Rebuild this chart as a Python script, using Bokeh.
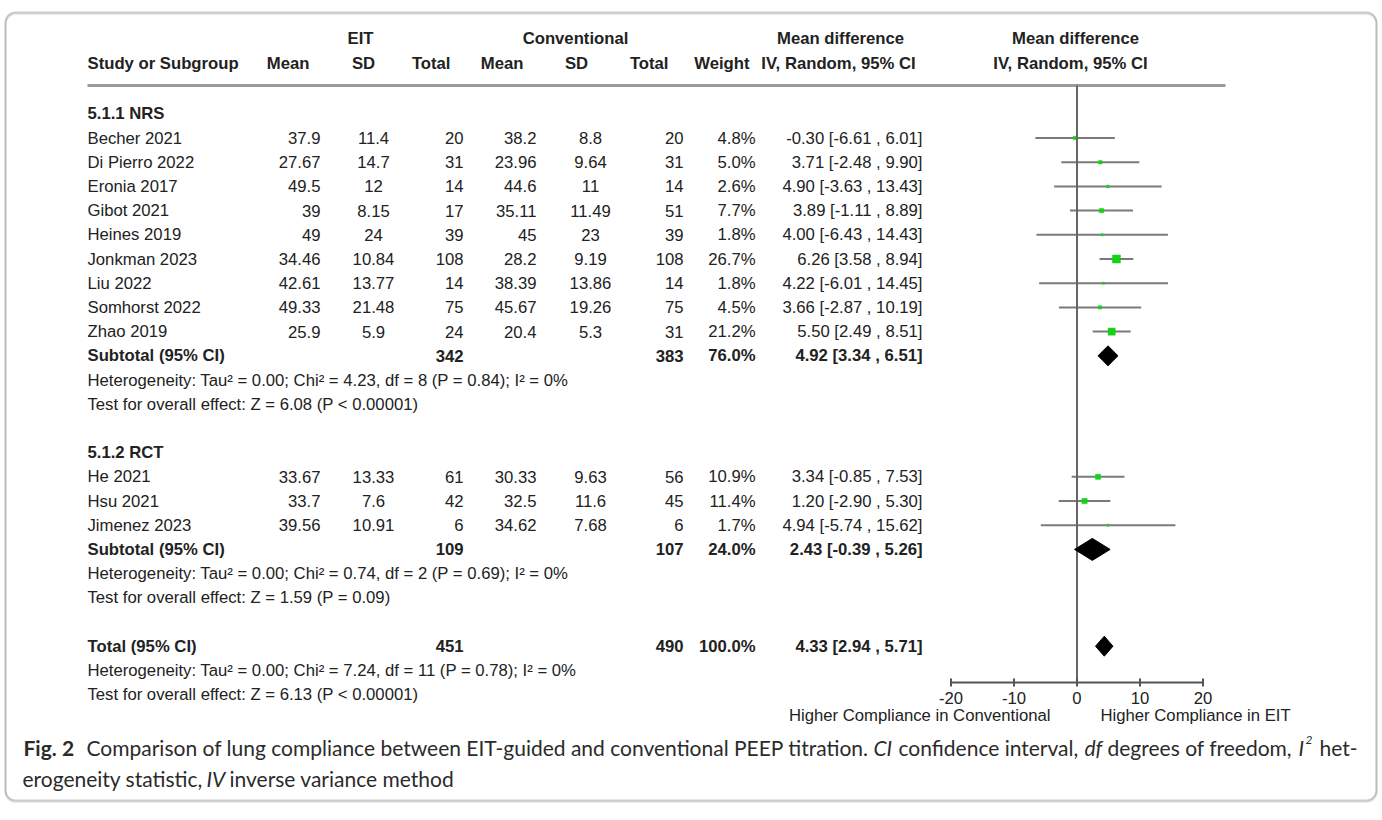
from bokeh.plotting import figure
from bokeh.models import Range1d, BoxAnnotation
from bokeh.core.properties import value
from bokeh.embed import file_html
from bokeh.resources import INLINE

# ---------------- data ----------------
nrs_study = ["Becher 2021", "Di Pierro 2022", "Eronia 2017", "Gibot 2021", "Heines 2019",
             "Jonkman 2023", "Liu 2022", "Somhorst 2022", "Zhao 2019"]
nrs_eit_mean = [37.9, 27.67, 49.5, 39, 49, 34.46, 42.61, 49.33, 25.9]
nrs_eit_sd = [11.4, 14.7, 12, 8.15, 24, 10.84, 13.77, 21.48, 5.9]
nrs_eit_n = [20, 31, 14, 17, 39, 108, 14, 75, 24]
nrs_con_mean = [38.2, 23.96, 44.6, 35.11, 45, 28.2, 38.39, 45.67, 20.4]
nrs_con_sd = [8.8, 9.64, 11, 11.49, 23, 9.19, 13.86, 19.26, 5.3]
nrs_con_n = [20, 31, 14, 51, 39, 108, 14, 75, 31]
nrs_weight = [4.8, 5.0, 2.6, 7.7, 1.8, 26.7, 1.8, 4.5, 21.2]
nrs_md = [-0.30, 3.71, 4.90, 3.89, 4.00, 6.26, 4.22, 3.66, 5.50]
nrs_lo = [-6.61, -2.48, -3.63, -1.11, -6.43, 3.58, -6.01, -2.87, 2.49]
nrs_hi = [6.01, 9.90, 13.43, 8.89, 14.43, 8.94, 14.45, 10.19, 8.51]

rct_study = ["He 2021", "Hsu 2021", "Jimenez 2023"]
rct_eit_mean = [33.67, 33.7, 39.56]
rct_eit_sd = [13.33, 7.6, 10.91]
rct_eit_n = [61, 42, 6]
rct_con_mean = [30.33, 32.5, 34.62]
rct_con_sd = [9.63, 11.6, 7.68]
rct_con_n = [56, 45, 6]
rct_weight = [10.9, 11.4, 1.7]
rct_md = [3.34, 1.20, 4.94]
rct_lo = [-0.85, -2.90, -5.74]
rct_hi = [7.53, 5.30, 15.62]

group_titles = ["5.1.1 NRS", "5.1.2 RCT"]
pooled_label = ["Subtotal (95% CI)", "Subtotal (95% CI)", "Total (95% CI)"]
pooled_eit_n = [342, 109, 451]
pooled_con_n = [383, 107, 490]
pooled_weight = [76.0, 24.0, 100.0]
pooled_md = [4.92, 2.43, 4.33]
pooled_lo = [3.34, -0.39, 2.94]
pooled_hi = [6.51, 5.26, 5.71]
heterogeneity = [
    "Heterogeneity: Tau\u00b2 = 0.00; Chi\u00b2 = 4.23, df = 8 (P = 0.84); I\u00b2 = 0%",
    "Heterogeneity: Tau\u00b2 = 0.00; Chi\u00b2 = 0.74, df = 2 (P = 0.69); I\u00b2 = 0%",
    "Heterogeneity: Tau\u00b2 = 0.00; Chi\u00b2 = 7.24, df = 11 (P = 0.78); I\u00b2 = 0%",
]
overall_effect = [
    "Test for overall effect: Z = 6.08 (P < 0.00001)",
    "Test for overall effect: Z = 1.59 (P = 0.09)",
    "Test for overall effect: Z = 6.13 (P < 0.00001)",
]
axis_ticks = [-20, -10, 0, 10, 20]
favours = ["Higher Compliance in Conventional", "Higher Compliance in EIT"]

# ---------------- layout constants ----------------
W, H = 1380, 816
ROW0, STEP = 137.5, 24.2
def ry(i):
    return ROW0 + STEP * i

nrs_rows = list(range(0, 9))
rct_rows = [14, 15, 16]
title_rows = [-1, 13]
pooled_rows = [9, 17, 21]
het_rows = [10, 18, 22]
test_rows = [11, 19, 23]

MD_ZERO, MD_PX = 1076.5, 6.3      # screen position of 0 and px per unit
AXIS_Y = 682
LINE_Y = 85

FONT = value("Liberation Sans")
CAP_FONT = value("Lato")
TXT = "#222222"
FS = "16.7px"

p = figure(width=W, height=H, x_range=Range1d(0, W), y_range=Range1d(H, 0),
           x_axis_type=None, y_axis_type=None, min_border=0,
           toolbar_location=None, output_backend="svg")
p.grid.visible = False
p.outline_line_color = None
p.background_fill_color = "white"
p.border_fill_color = "white"
p.extra_x_ranges = {"md": Range1d((0 - MD_ZERO) / MD_PX, (W - MD_ZERO) / MD_PX)}

# frame box (with a soft shadow)
p.add_layout(BoxAnnotation(left=5, right=1376, top=13.5, bottom=801.5, border_radius=10,
                           fill_alpha=0, line_color="#b5b5b5", line_width=2))
p.add_layout(BoxAnnotation(left=5, right=1376, top=12, bottom=800, border_radius=10,
                           fill_alpha=0, line_color="#5a5a5a", line_width=2))

def txt(x, y, t, align="left", bold=False, size=FS, font=FONT, style=None, color=TXT, **kw):
    xs = x if isinstance(x, list) else [x] * len(t)
    ys = y if isinstance(y, list) else [y] * len(t)
    p.text(x=xs, y=ys, text=t, text_align=align, text_baseline="middle",
           text_font=font, text_font_size=size, text_color=color,
           text_font_style=style if style else ("bold" if bold else "normal"), **kw)

# ---------------- headers ----------------
txt([360, 575, 840, 1075], 38, ["EIT", "Conventional", "Mean difference", "Mean difference"],
    align="center", bold=True)
txt(87, 63, ["Study or Subgroup"], bold=True)
txt([309, 450, 523, 668, 749], 63, ["Mean", "Total", "Mean", "Total", "Weight"], align="right", bold=True)
txt([363, 576, 838, 1070], 63, ["SD", "SD", "IV, Random, 95% CI", "IV, Random, 95% CI"],
    align="center", bold=True)
p.segment(x0=[87], y0=[LINE_Y], x1=[1225], y1=[LINE_Y], line_color="#9a9a9a", line_width=3)

# ---------------- study rows ----------------
def study_block(rows, study, em, es, en, cm, cs, cn, w, md, lo, hi):
    ys = [ry(i) for i in rows]
    txt(87, ys, study)
    txt(320, ys, [str(v) for v in em], align="right")
    txt(373, ys, [str(v) for v in es], align="center")
    txt(463, ys, [str(v) for v in en], align="right")
    txt(536, ys, [str(v) for v in cm], align="right")
    txt(590, ys, [str(v) for v in cs], align="center")
    txt(683, ys, [str(v) for v in cn], align="right")
    txt(755, ys, [f"{v:.1f}%" for v in w], align="right")
    txt(922, ys, [f"{m:.2f} [{a:.2f} , {b:.2f}]" for m, a, b in zip(md, lo, hi)], align="right")
    p.segment(x0=lo, y0=ys, x1=hi, y1=ys, x_range_name="md", line_color="#7a7a7a", line_width=2)
    p.scatter(x=md, y=ys, marker="square", size=[1.55 * v ** 0.5 for v in w],
              x_range_name="md", fill_color="#14d214", line_color="#14d214", line_width=0.5)

study_block(nrs_rows, nrs_study, nrs_eit_mean, nrs_eit_sd, nrs_eit_n, nrs_con_mean, nrs_con_sd,
            nrs_con_n, nrs_weight, nrs_md, nrs_lo, nrs_hi)
study_block(rct_rows, rct_study, rct_eit_mean, rct_eit_sd, rct_eit_n, rct_con_mean, rct_con_sd,
            rct_con_n, rct_weight, rct_md, rct_lo, rct_hi)

txt(87, [ry(i) for i in title_rows], group_titles, bold=True)

# pooled rows
pys = [ry(i) for i in pooled_rows]
txt(87, pys, pooled_label, bold=True)
txt(463, pys, [str(v) for v in pooled_eit_n], align="right", bold=True)
txt(683, pys, [str(v) for v in pooled_con_n], align="right", bold=True)
txt(755, pys, [f"{v:.1f}%" for v in pooled_weight], align="right", bold=True)
txt(922, pys, [f"{m:.2f} [{a:.2f} , {b:.2f}]" for m, a, b in zip(pooled_md, pooled_lo, pooled_hi)],
    align="right", bold=True)
txt(87, [ry(i) for i in het_rows], heterogeneity)
txt(87, [ry(i) for i in test_rows], overall_effect)

# zero line
p.segment(x0=[0], y0=[LINE_Y], x1=[0], y1=[AXIS_Y], x_range_name="md",
          line_color="#666666", line_width=2)

# diamonds
half_h = [10, 11, 10]
dx = [[a, m, b, m] for m, a, b in zip(pooled_md, pooled_lo, pooled_hi)]
dy = [[y, y - h, y, y + h] for y, h in zip(pys, half_h)]
p.patches(xs=dx, ys=dy, x_range_name="md", fill_color="black", line_color="black")

# axis
p.segment(x0=[axis_ticks[0]], y0=[AXIS_Y], x1=[axis_ticks[-1]], y1=[AXIS_Y], x_range_name="md",
          line_color="#555555", line_width=2)
p.segment(x0=axis_ticks, y0=[AXIS_Y - 4] * len(axis_ticks), x1=axis_ticks,
          y1=[AXIS_Y + 4] * len(axis_ticks), x_range_name="md", line_color="#555555", line_width=2)
txt(axis_ticks, AXIS_Y + 15, [str(t) for t in axis_ticks], align="center", x_range_name="md")
txt(1050, 715, [favours[0]], align="right")
txt(1100, 715, [favours[1]], align="left")

# ---------------- caption ----------------
CAP = "#2b2b2b"
CS = "21px"
Y1, Y2 = 747, 778
txt(23, Y1, ["Fig. 2"], font=CAP_FONT, size=CS, bold=True, color=CAP)
txt(86, Y1, ["Comparison of lung compliance between EIT-guided and conventional PEEP titration."],
    font=CAP_FONT, size=CS, color=CAP)
txt(873, Y1, ["CI"], font=CAP_FONT, size=CS, style="italic", color=CAP)
txt(898, Y1, ["confidence interval,"], font=CAP_FONT, size=CS, color=CAP)
txt(1084, Y1, ["df"], font=CAP_FONT, size=CS, style="italic", color=CAP)
txt(1107, Y1, ["degrees of freedom,"], font=CAP_FONT, size=CS, color=CAP)
txt(1298, Y1, ["I"], font=CAP_FONT, size=CS, style="italic", color=CAP)
txt(1305, Y1 - 8, ["2"], font=CAP_FONT, size="12px", style="italic", color=CAP)
txt(1319, Y1, ["het-"], font=CAP_FONT, size=CS, color=CAP)
txt(22, Y2, ["erogeneity statistic,"], font=CAP_FONT, size=CS, color=CAP)
txt(206, Y2, ["IV"], font=CAP_FONT, size=CS, style="italic", color=CAP)
txt(229, Y2, ["inverse variance method"], font=CAP_FONT, size=CS, color=CAP)

open("out.html", "w").write(file_html(p, INLINE))
